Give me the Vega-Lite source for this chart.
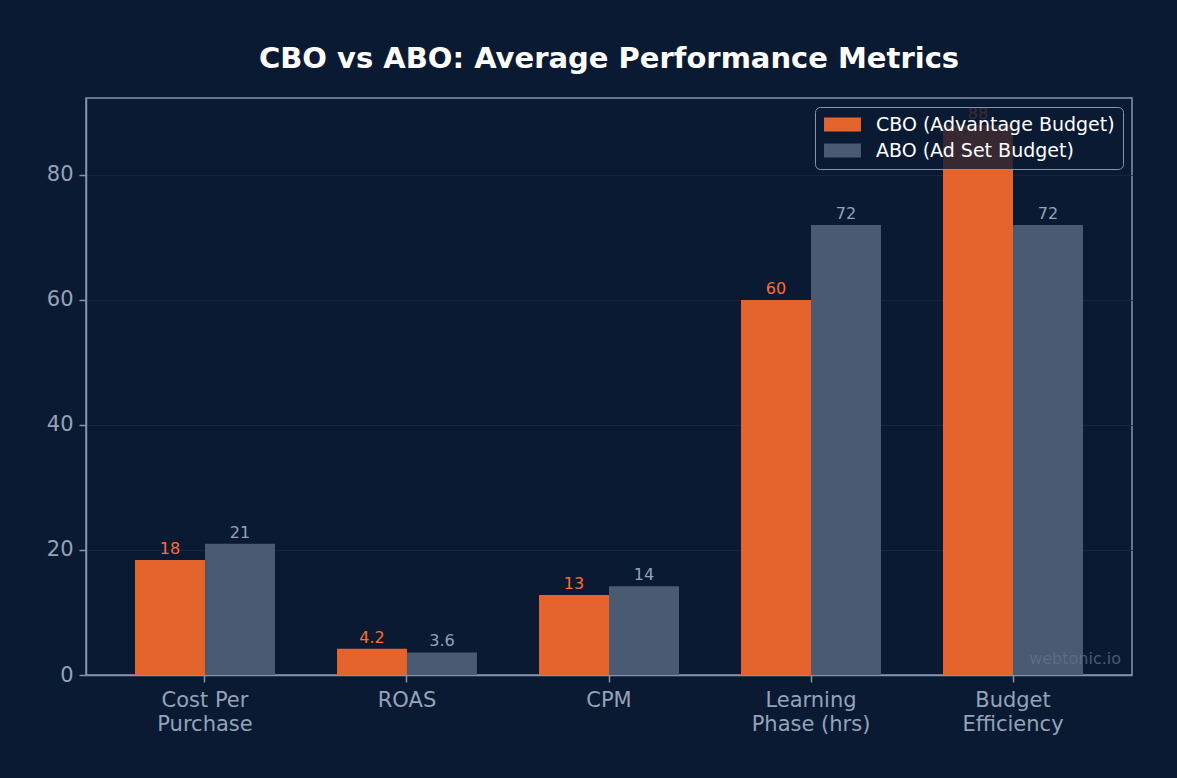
{
  "$schema": "https://vega.github.io/schema/vega-lite/v6.json",
  "width": 1046,
  "height": 577,
  "autosize": "none",
  "padding": {"left": 86, "top": 98, "right": 45, "bottom": 103},
  "background": "#0b1a33",
  "title": {
    "text": "CBO vs ABO: Average Performance Metrics",
    "font": "DejaVu Sans",
    "fontSize": 29,
    "fontWeight": "bold",
    "color": "#ffffff",
    "anchor": "middle",
    "offset": 24
  },
  "config": {
    "font": "DejaVu Sans",
    "view": {"stroke": "#8494ad", "strokeWidth": 1.5},
    "axis": {
      "domainColor": "#8494ad",
      "domainWidth": 1.5,
      "tickColor": "#8494ad",
      "tickWidth": 1.5,
      "tickSize": 7,
      "labelColor": "#94a3b8",
      "labelFont": "DejaVu Sans",
      "labelFontSize": 21,
      "gridColor": "#15253e",
      "gridWidth": 1
    },
    "legend": {
      "strokeColor": "#8494ad",
      "fillColor": "rgba(11,26,51,0.8)",
      "cornerRadius": 5,
      "padding": 8
    }
  },
  "datasets": {
    "bars": [
      {"metric": "Cost Per Purchase", "type": "CBO (Advantage Budget)", "value": 18.4},
      {"metric": "Cost Per Purchase", "type": "ABO (Ad Set Budget)", "value": 21},
      {"metric": "ROAS", "type": "CBO (Advantage Budget)", "value": 4.2},
      {"metric": "ROAS", "type": "ABO (Ad Set Budget)", "value": 3.6},
      {"metric": "CPM", "type": "CBO (Advantage Budget)", "value": 12.8},
      {"metric": "CPM", "type": "ABO (Ad Set Budget)", "value": 14.2},
      {"metric": "Learning Phase (hrs)", "type": "CBO (Advantage Budget)", "value": 60},
      {"metric": "Learning Phase (hrs)", "type": "ABO (Ad Set Budget)", "value": 72},
      {"metric": "Budget Efficiency", "type": "CBO (Advantage Budget)", "value": 88},
      {"metric": "Budget Efficiency", "type": "ABO (Ad Set Budget)", "value": 72}
    ],
    "note": [{"note": "webtonic.io"}]
  },
  "layer": [
    {
      "data": {"name": "bars"},
      "encoding": {
        "x": {
          "field": "metric",
          "type": "nominal",
          "sort": ["Cost Per Purchase", "ROAS", "CPM", "Learning Phase (hrs)", "Budget Efficiency"],
          "scale": {"paddingInner": 0.307, "paddingOuter": 0.2426},
          "axis": {
            "title": null,
            "labelAngle": 0,
            "labelPadding": 7,
            "labelLineHeight": 24,
            "labelBaseline": "top",
            "grid": false,
            "labelExpr": "datum.label == 'Cost Per Purchase' ? ['Cost Per', 'Purchase'] : datum.label == 'Learning Phase (hrs)' ? ['Learning', 'Phase (hrs)'] : datum.label == 'Budget Efficiency' ? ['Budget', 'Efficiency'] : datum.label"
          }
        },
        "xOffset": {
          "field": "type",
          "type": "nominal",
          "sort": ["CBO (Advantage Budget)", "ABO (Ad Set Budget)"],
          "scale": {"paddingInner": 0, "paddingOuter": 0}
        },
        "y": {
          "field": "value",
          "type": "quantitative",
          "scale": {"domain": [0, 92.3], "nice": false},
          "axis": {"title": null, "values": [0, 20, 40, 60, 80], "labelPadding": 6, "grid": true}
        }
      },
      "layer": [
        {
          "mark": {"type": "bar"},
          "encoding": {
            "color": {
              "field": "type",
              "type": "nominal",
              "sort": ["CBO (Advantage Budget)", "ABO (Ad Set Budget)"],
              "scale": {
                "domain": ["CBO (Advantage Budget)", "ABO (Ad Set Budget)"],
                "range": ["#e5632d", "#4a5a72"]
              },
              "legend": {
                "title": null,
                "orient": "top-right",
                "offset": 9,
                "labelFont": "DejaVu Sans",
                "labelFontSize": 19,
                "labelColor": "#ffffff",
                "labelLimit": 400,
                "symbolType": "M-2.64,-1H2.64V1H-2.64Z",
                "symbolSize": 196,
                "symbolOffset": 10,
                "symbolStrokeWidth": 0,
                "symbolOpacity": 1,
                "labelOffset": 24,
                "rowPadding": 6
              }
            }
          }
        },
        {
          "mark": {"type": "text", "baseline": "bottom", "dy": -3, "fontSize": 16, "font": "DejaVu Sans"},
          "encoding": {
            "text": {"field": "value", "type": "quantitative", "format": ".2~g"},
            "color": {
              "condition": {"test": "datum.type == 'CBO (Advantage Budget)'", "value": "#ff6b35"},
              "value": "#94a3b8"
            }
          }
        }
      ]
    },
    {
      "data": {"name": "note"},
      "mark": {
        "type": "text",
        "align": "right",
        "baseline": "bottom",
        "fontSize": 16,
        "font": "DejaVu Sans",
        "color": "#64748b",
        "opacity": 0.7,
        "x": {"expr": "width - 11"},
        "y": {"expr": "height - 8"}
      },
      "encoding": {
        "text": {"field": "note", "type": "nominal"}
      }
    }
  ]
}
